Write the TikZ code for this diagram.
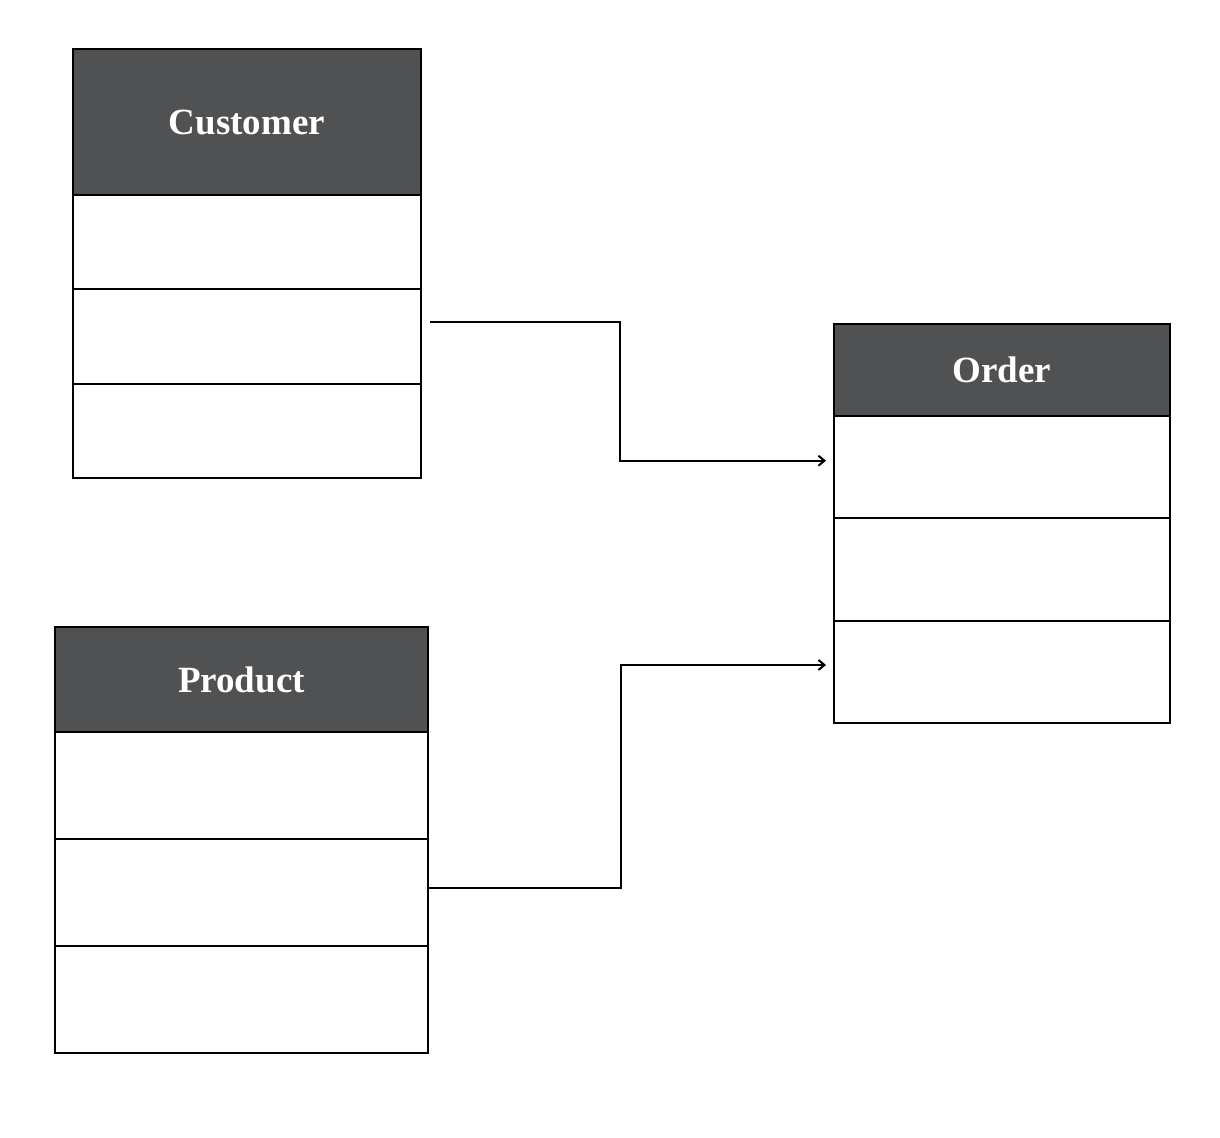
\documentclass[tikz,border=0pt]{standalone}
\usepackage{fontspec}
\setmainfont{Liberation Serif}
\usepackage{xcolor}
\usepackage{tikz}
\usetikzlibrary{arrows.meta,positioning}
\definecolor{headgray}{RGB}{80,81,83}

\begin{document}
\begin{tikzpicture}[
  x=0.5pt,y=-0.5pt,
  node distance=0pt,
  head/.style={draw=black,line width=1pt,fill=headgray,text=white,font=\bfseries\fontsize{18.5}{22}\selectfont,minimum width=#1,inner sep=0pt,outer sep=0pt},
  row/.style={draw=black,line width=1pt,fill=white,minimum width=#1,inner sep=0pt,outer sep=0pt},
  arr/.style={-{Straight Barb[length=3pt,width=5pt]},line width=1pt}
]
\useasboundingbox (0,0) rectangle (1220,1138);
% Customer table
\node[head=174pt,minimum height=73pt,anchor=north west] (cust) at (73,49) {Customer};
\node[row=174pt,minimum height=47.2pt,below=of cust] (cr1) {};
\node[row=174pt,minimum height=47.2pt,below=of cr1] (cr2) {};
\node[row=174pt,minimum height=47.2pt,below=of cr2] (cr3) {};
% Order table
\node[head=168pt,minimum height=46pt,anchor=north west] (ord) at (834,324) {Order};
\node[row=168pt,minimum height=51.2pt,below=of ord] (or1) {};
\node[row=168pt,minimum height=51.2pt,below=of or1] (or2) {};
\node[row=168pt,minimum height=51.2pt,below=of or2] (or3) {};
% Product table
\node[head=186.5pt,minimum height=52.5pt,anchor=north west] (prod) at (55,627) {Product};
\node[row=186.5pt,minimum height=53.5pt,below=of prod] (pr1) {};
\node[row=186.5pt,minimum height=53.5pt,below=of pr1] (pr2) {};
\node[row=186.5pt,minimum height=53.5pt,below=of pr2] (pr3) {};
% links
\draw[arr] ([xshift=4.5pt,yshift=7.5pt]cr2.east) -- ++(95pt,0) |- ([xshift=-4pt,yshift=3.25pt]or1.west);
\draw[arr] ([yshift=2.25pt]pr2.east) -- ++(96.5pt,0) |- ([xshift=-4pt,yshift=3.5pt]or3.west);
\end{tikzpicture}
\end{document}
